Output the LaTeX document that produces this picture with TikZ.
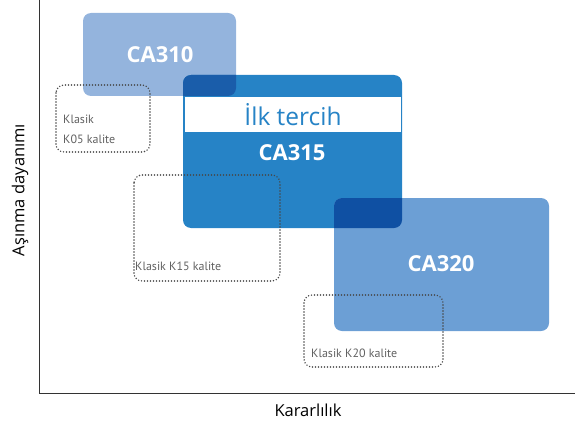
\documentclass[tikz,border=0pt]{standalone}
\usepackage{fontspec}
\setmainfont{Open Sans}
\newfontfamily\graysans{PT Sans}
\begin{document}
\begin{tikzpicture}[x=1pt,y=-1pt,
  blk/.style={rounded corners=8pt},
  big/.style={text=white,font=\fontsize{22}{22}\selectfont\bfseries,inner sep=0pt},
  gray/.style={text=black!62,font=\graysans\fontsize{12}{20}\selectfont,inner sep=0pt,anchor=base west,align=left},
  dotbox/.style={draw=black!72,line width=1.6pt,dash pattern=on 0pt off 3pt,line cap=round,rounded corners=8pt},
  axis/.style={draw=black!80,line width=0.8pt}]
\useasboundingbox (0,0) rectangle (580,425);
\definecolor{c310}{HTML}{94B4DD}
\definecolor{c315}{HTML}{2683C6}
\definecolor{c320}{HTML}{6C9FD5}
\definecolor{cdark}{HTML}{1A5DAA}
\definecolor{cdarker}{HTML}{0F50A3}
% boxes
\fill[c310,blk] (83,13) rectangle (236,96);
\fill[c315,blk] (183,75) rectangle (402,228);
\fill[c320,blk] (334,198) rectangle (549,331);
% overlaps
\begin{scope}
  \clip[blk] (83,13) rectangle (236,96);
  \fill[cdark,blk] (183,75) rectangle (402,228);
\end{scope}
\begin{scope}
  \clip[blk] (183,75) rectangle (402,228);
  \fill[cdarker,blk] (334,198) rectangle (549,331);
\end{scope}
\fill[white] (185,97) rectangle (401,132);
% labels
\node[big] (t310) at (160,55) {CA310};
\node[text=c315,font=\fontsize{24.5}{24}\selectfont,inner sep=0pt,anchor=base] (tilk) at (293,125) {İlk tercih};
\node[big,anchor=base] (t315) at (292,160) {CA315};
\node[big] (t320) at (441,264) {CA320};
% dotted boxes
\draw[dotbox] (56,85) rectangle (150,152);
\draw[dotbox] (134,175) rectangle (280,281);
\draw[dotbox] (304,295) rectangle (443,367);
\node[gray] (k05) at (63,143) {Klasik\\K05 kalite};
\node[gray] (k15) at (135,270) {Klasik K15 kalite};
\node[gray] (k20) at (311,357) {Klasik K20 kalite};
% axes
\coordinate (o) at (39,393);
\coordinate (ytop) at (39,0);
\coordinate (xend) at (575,393);
\draw[axis] (ytop) -- (o) -- (xend);
\node[font=\fontsize{16.5}{16}\selectfont,inner sep=0pt] (xl) at (308,410) {Kararlılık};
\node[font=\fontsize{16.5}{16}\selectfont,inner sep=0pt,rotate=90] (yl) at (20,190) {Aşınma dayanımı};
\end{tikzpicture}
\end{document}
